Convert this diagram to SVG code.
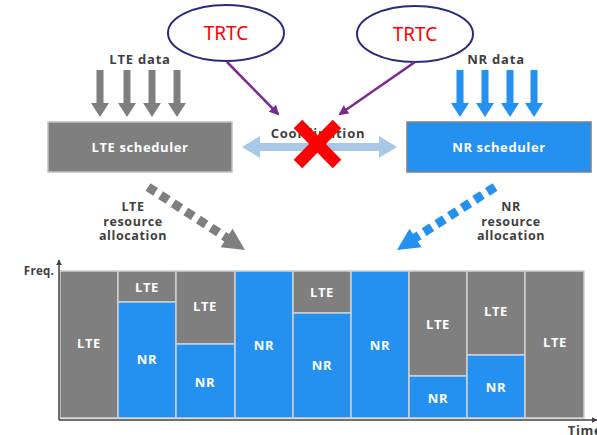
<svg xmlns="http://www.w3.org/2000/svg" width="597" height="435" viewBox="0 0 597 435">
<defs>
<style>
text{font-family:"Open Sans","Noto Sans","DejaVu Sans",sans-serif;font-weight:bold;text-anchor:middle}
.lbl{font-size:13px;fill:#404040;letter-spacing:0.8px}
.sm{font-size:12.5px;fill:#404040;letter-spacing:0.6px}
.wt{font-size:13px;fill:#ffffff;letter-spacing:0.6px}
.trtc{font-family:"Noto Sans","Open Sans",sans-serif;font-weight:normal;font-size:19px;fill:#ff0000}
.ell{fill:#ffffff;stroke:#2a2a7a;stroke-width:2}
.lte{fill:#7f7f7f;stroke:#d0d0d0;stroke-width:1.5}
.nr{fill:#2490f0;stroke:#d0d0d0;stroke-width:1.5}
.garr{fill:#7f7f7f}
.barr{fill:#2490f0}
.purp{stroke:#7b2a8f;stroke-width:2.5;fill:none}
</style>
<marker id="pm" viewBox="0 0 10 10" refX="8" refY="5" markerWidth="4" markerHeight="4" orient="auto" markerUnits="strokeWidth">
<path d="M0,0 L10,5 L0,10 z" fill="#7b2a8f"/>
</marker>
<marker id="ax" viewBox="0 0 10 10" refX="9" refY="5" markerWidth="6" markerHeight="6" orient="auto" markerUnits="userSpaceOnUse">
<path d="M0,0 L10,5 L0,10 z" fill="#404040"/>
</marker>
</defs>
<rect width="597" height="435" fill="#ffffff"/>

<g id="trtc-left">
<ellipse class="ell" cx="226" cy="33" rx="58" ry="28"/>
<text class="trtc" x="226" y="40">TRTC</text>
</g>
<g id="trtc-right">
<ellipse class="ell" cx="415" cy="34" rx="58" ry="28"/>
<text class="trtc" x="415" y="41">TRTC</text>
</g>

<g id="lte-data">
<text class="lbl" x="140" y="64">LTE data</text>
<g class="garr">
<polygon points="96.5,70 103.5,70 103.5,103 109,103 100,117 91,103 96.5,103"/>
<polygon points="123.5,70 130.5,70 130.5,103 136,103 127,117 118,103 123.5,103"/>
<polygon points="148.5,70 155.5,70 155.5,103 161,103 152,117 143,103 148.5,103"/>
<polygon points="173.5,70 180.5,70 180.5,103 186,103 177,117 168,103 173.5,103"/>
</g>
</g>

<g id="nr-data">
<text class="lbl" x="496" y="64">NR data</text>
<g class="barr">
<polygon points="456.5,70 463.5,70 463.5,103 469,103 460,117 451,103 456.5,103"/>
<polygon points="481.5,70 488.5,70 488.5,103 494,103 485,117 476,103 481.5,103"/>
<polygon points="506.5,70 513.5,70 513.5,103 519,103 510,117 501,103 506.5,103"/>
<polygon points="530.5,70 537.5,70 537.5,103 543,103 534,117 525,103 530.5,103"/>
</g>
</g>

<g id="lte-scheduler">
<rect x="48" y="122" width="184" height="50" fill="#7f7f7f" stroke="#c0c0c0" stroke-width="1.5"/>
<text class="wt" x="140" y="152">LTE scheduler</text>
</g>
<g id="nr-scheduler">
<rect x="407" y="122" width="184" height="50" fill="#2490f0" stroke="#808080" stroke-width="1.5"/>
<text class="wt" x="499" y="152">NR scheduler</text>
</g>

<g id="connectors">
<line class="purp" x1="227" y1="62" x2="278" y2="114" marker-end="url(#pm)"/>
<line class="purp" x1="415" y1="62" x2="340" y2="114" marker-end="url(#pm)"/>
<polygon points="242,147 260,136 260,143 379,143 379,136 397,147 379,158 379,151 260,151 260,158" fill="#a8c8e8"/>
<text class="lbl" x="318" y="138">Coordination</text>
<g stroke="#ff0000" stroke-width="12">
<line x1="298" y1="124" x2="337" y2="164"/>
<line x1="337" y1="124" x2="298" y2="164"/>
</g>
<line x1="148" y1="187" x2="227" y2="238" stroke="#7f7f7f" stroke-width="9" stroke-dasharray="9 6"/>
<polygon points="245,250 220.6,247.2 232.6,228.8" fill="#7f7f7f"/>
<line x1="495" y1="187" x2="415" y2="238" stroke="#2490f0" stroke-width="9" stroke-dasharray="9 6"/>
<polygon points="397,250 409.5,228.7 421.5,247.3" fill="#2490f0"/>
</g>

<g id="lte-alloc-label">
<text class="sm" x="133" y="211">LTE</text>
<text class="sm" x="133" y="225.5">resource</text>
<text class="sm" x="133" y="240">allocation</text>
</g>
<g id="nr-alloc-label">
<text class="sm" x="511" y="211">NR</text>
<text class="sm" x="511" y="225.5">resource</text>
<text class="sm" x="511" y="240">allocation</text>
</g>

<g id="chart">
<rect class="lte" x="60" y="271" width="58" height="147"/>
<rect class="lte" x="118" y="271" width="58" height="31"/>
<rect class="nr" x="118" y="302" width="58" height="116"/>
<rect class="lte" x="176" y="271" width="59" height="73"/>
<rect class="nr" x="176" y="344" width="59" height="74"/>
<rect class="nr" x="235" y="271" width="58" height="147"/>
<rect class="lte" x="293" y="271" width="58" height="42"/>
<rect class="nr" x="293" y="313" width="58" height="105"/>
<rect class="nr" x="351" y="271" width="58" height="147"/>
<rect class="lte" x="409" y="271" width="58" height="105"/>
<rect class="nr" x="409" y="376" width="58" height="42"/>
<rect class="lte" x="467" y="271" width="58" height="84"/>
<rect class="nr" x="467" y="355" width="58" height="63"/>
<rect class="lte" x="525" y="271" width="59" height="147"/>
<g>
<text class="wt" x="89" y="348">LTE</text>
<text class="wt" x="147" y="292">LTE</text>
<text class="wt" x="147" y="364">NR</text>
<text class="wt" x="205" y="311">LTE</text>
<text class="wt" x="205" y="387">NR</text>
<text class="wt" x="264" y="350">NR</text>
<text class="wt" x="322" y="297">LTE</text>
<text class="wt" x="322" y="370">NR</text>
<text class="wt" x="380" y="350">NR</text>
<text class="wt" x="438" y="329">LTE</text>
<text class="wt" x="438" y="403">NR</text>
<text class="wt" x="496" y="316">LTE</text>
<text class="wt" x="496" y="392">NR</text>
<text class="wt" x="555" y="347">LTE</text>
</g>
<line x1="59" y1="420" x2="59" y2="260" stroke="#404040" stroke-width="1.5" marker-end="url(#ax)"/>
<line x1="59" y1="420" x2="597" y2="420" stroke="#404040" stroke-width="1.5" marker-end="url(#ax)"/>
<text class="sm" x="39" y="275" style="font-size:11.5px;letter-spacing:0.3px">Freq.</text>
<text class="sm" x="585" y="435" style="font-size:13px">Time</text>
</g>
</svg>
